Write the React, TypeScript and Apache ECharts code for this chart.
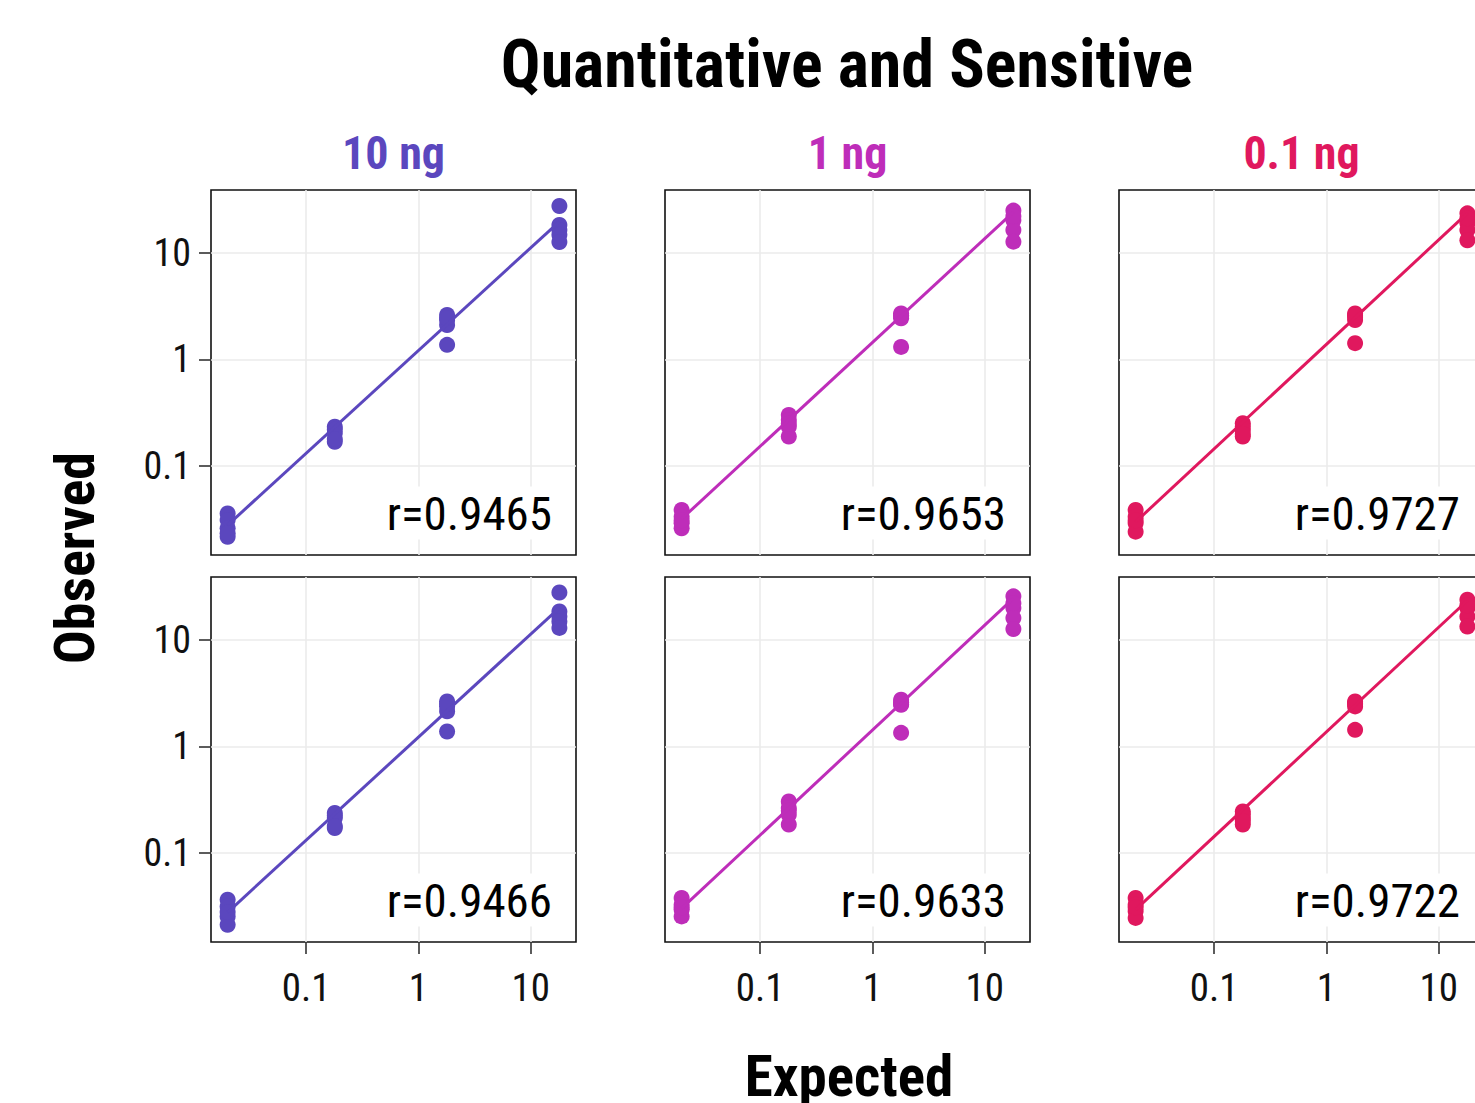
import React, { useEffect, useRef } from "react";
import * as echarts from "echarts";

// ---------------- data ----------------
const chartTitle = "Quantitative and Sensitive";
const facetLabels = ["10 ng", "1 ng", "0.1 ng"];
const facetColors = ["#5B47BE", "#BE2DB9", "#E0185E"];
const xAxisTitle = "Expected";
const yAxisTitle = "Observed";
const tickValues = [0.1, 1, 10];
const tickLabels = ["0.1", "1", "10"];
const expectedLevels = [0.02, 0.18, 1.8, 18];

// observed values per panel: rows of replicates for each expected level
const obsRow1Col1 = [
  [0.036, 0.0312, 0.0261, 0.0218, 0.0235],
  [0.234, 0.203, 0.169, 0.22, 0.18],
  [2.61, 2.34, 2.1, 1.37, 2.45],
  [27.4, 18.2, 16.3, 14.7, 12.6],
];
const obsRow1Col2 = [
  [0.0388, 0.0336, 0.0291, 0.0261, 0.031],
  [0.301, 0.27, 0.234, 0.189, 0.25],
  [2.7, 2.43, 2.55, 1.31, 2.6],
  [24.8, 20.2, 16.3, 12.7, 22],
];
const obsRow1Col3 = [
  [0.0388, 0.0336, 0.0291, 0.0243, 0.031],
  [0.252, 0.218, 0.189, 0.235, 0.2],
  [2.7, 2.34, 1.42, 2.5, 2.6],
  [23.4, 18.9, 16.3, 13.1, 21],
];
const obsRow2Col1 = [
  [0.0366, 0.0316, 0.0255, 0.0213, 0.028],
  [0.238, 0.213, 0.172, 0.225, 0.18],
  [2.64, 2.37, 2.13, 1.38, 2.5],
  [27.7, 18.4, 16.5, 14.8, 12.9],
];
const obsRow2Col2 = [
  [0.038, 0.0328, 0.0295, 0.0255, 0.031],
  [0.305, 0.265, 0.229, 0.185, 0.25],
  [2.74, 2.46, 1.34, 2.6, 2.5],
  [25.5, 19.8, 16, 12.6, 22],
];
const obsRow2Col3 = [
  [0.038, 0.0328, 0.0285, 0.0247, 0.031],
  [0.246, 0.213, 0.185, 0.23, 0.2],
  [2.64, 2.37, 1.43, 2.5, 2.55],
  [23.7, 19.8, 16.5, 13.3, 21],
];
const panelObs = [obsRow1Col1, obsRow1Col2, obsRow1Col3, obsRow2Col1, obsRow2Col2, obsRow2Col3];

// fitted line endpoints (observed at expected = 0.02 and 18)
const fitX = [0.02, 18];
const fitRow1 = [
  [0.028, 19.6],
  [0.032, 24.0],
  [0.030, 23.5],
];
const fitRow2 = [
  [0.0279, 19.9],
  [0.0303, 24.4],
  [0.0295, 23.3],
];
const panelFits = [...fitRow1, ...fitRow2];
const rValues = ["0.9465", "0.9653", "0.9727", "0.9466", "0.9633", "0.9722"];

// axis extents
const xMin = 0.01422;
const xMax = 25.3;
const yMin = 0.01469;
const yMax = 38.7;

// ---------------- layout ----------------
const W = 1475;
const H = 1103;
const CANVAS_W = 1530;
const gridLefts = [211, 665, 1119];
const gridTops = [190, 577];
const gridSize = 365;
const FONT = "'Roboto Condensed', 'Liberation Sans Narrow', 'DejaVu Sans Condensed', Roboto, sans-serif";

export default function App() {
  const ref = useRef<HTMLDivElement>(null);

  useEffect(() => {
    if (!ref.current) return;
    const chart = echarts.init(ref.current, undefined, { renderer: "svg" });

    const grids: any[] = [];
    const xAxes: any[] = [];
    const yAxes: any[] = [];
    const series: any[] = [];
    const graphics: any[] = [];
    const fmt = (v: number) =>
      tickLabels[tickValues.findIndex((t) => Math.abs(t - v) < 1e-9)] ?? "";

    for (let r = 0; r < 2; r++) {
      for (let c = 0; c < 3; c++) {
        const i = r * 3 + c;
        grids.push({
          left: gridLefts[c],
          top: gridTops[r],
          width: gridSize,
          height: gridSize,
          show: true,
          backgroundColor: "#fff",
          borderColor: "#111",
          borderWidth: 1.6,
          containLabel: false,
        });
        const showX = r === 1;
        const showY = c === 0;
        xAxes.push({
          type: "log",
          logBase: 10,
          gridIndex: i,
          min: xMin,
          max: xMax,
          axisLine: { show: false },
          axisTick: {
            show: showX,
            customValues: tickValues,
            length: 12,
            lineStyle: { color: "#333", width: 1.6 },
          },
          axisLabel: {
            show: showX,
            customValues: tickValues,
            formatter: fmt,
            fontFamily: FONT,
            fontSize: 39,
            color: "#111",
            margin: 26,
          },
          splitLine: { show: true, lineStyle: { color: "#EBEBEB", width: 1.6 } },
          minorTick: { show: false },
          minorSplitLine: { show: false },
        });
        yAxes.push({
          type: "log",
          logBase: 10,
          gridIndex: i,
          min: yMin,
          max: yMax,
          axisLine: { show: false },
          axisTick: {
            show: showY,
            customValues: tickValues,
            length: 12,
            lineStyle: { color: "#333", width: 1.6 },
          },
          axisLabel: {
            show: showY,
            customValues: tickValues,
            formatter: fmt,
            fontFamily: FONT,
            fontSize: 38,
            color: "#111",
            margin: 20,
          },
          splitLine: { show: true, lineStyle: { color: "#EBEBEB", width: 1.6 } },
        });

        const pts: number[][] = [];
        panelObs[i].forEach((vals, k) => {
          vals.forEach((v) => pts.push([expectedLevels[k], v]));
        });
        series.push({
          type: "scatter",
          xAxisIndex: i,
          yAxisIndex: i,
          data: pts,
          symbol: "circle",
          symbolSize: 16,
          itemStyle: { color: facetColors[c], opacity: 1 },
          z: 2,
          silent: true,
        });
        series.push({
          type: "line",
          xAxisIndex: i,
          yAxisIndex: i,
          data: fitX.map((x, k) => [x, panelFits[i][k]]),
          showSymbol: false,
          symbol: "none",
          lineStyle: { color: facetColors[c], width: 3 },
          z: 3,
          silent: true,
        });

        graphics.push({
          type: "text",
          x: gridLefts[c] + 347,
          y: gridTops[r] + 323,
          z: 10,
          style: {
            text: "r=" + rValues[i],
            fontFamily: FONT,
            fontSize: 47,
            fill: "#000",
            align: "right",
            verticalAlign: "middle",
            backgroundColor: "#fff",
            padding: [3, 6, 3, 6],
          },
        });
      }
    }

    // facet strip labels
    facetLabels.forEach((lab, c) => {
      graphics.push({
        type: "text",
        x: gridLefts[c] + gridSize / 2,
        y: 153,
        style: {
          text: lab,
          fontFamily: FONT,
          fontWeight: "bold",
          fontSize: 46,
          fill: facetColors[c],
          align: "center",
          verticalAlign: "middle",
        },
      });
    });

    graphics.push({
      type: "text",
      x: 847,
      y: 64,
      style: {
        text: chartTitle,
        fontFamily: FONT,
        fontWeight: "bold",
        fontSize: 66,
        fill: "#000",
        align: "center",
        verticalAlign: "middle",
      },
    });
    graphics.push({
      type: "text",
      x: 849,
      y: 1076,
      style: {
        text: xAxisTitle,
        fontFamily: FONT,
        fontWeight: "bold",
        fontSize: 57,
        fill: "#000",
        align: "center",
        verticalAlign: "middle",
      },
    });
    graphics.push({
      type: "text",
      x: 75,
      y: 558,
      rotation: Math.PI / 2,
      style: {
        text: yAxisTitle,
        fontFamily: FONT,
        fontWeight: "bold",
        fontSize: 56,
        fill: "#000",
        align: "center",
        verticalAlign: "middle",
      },
    });

    chart.setOption({
      animation: false,
      backgroundColor: "#fff",
      grid: grids,
      xAxis: xAxes,
      yAxis: yAxes,
      series,
      graphic: graphics,
    });

    return () => chart.dispose();
  }, []);

  return (
    <div
      style={{
        position: "fixed",
        left: 0,
        top: 0,
        width: W,
        height: H,
        overflow: "hidden",
        background: "#fff",
      }}
    >
      <div ref={ref} style={{ width: CANVAS_W, height: H }} />
    </div>
  );
}
